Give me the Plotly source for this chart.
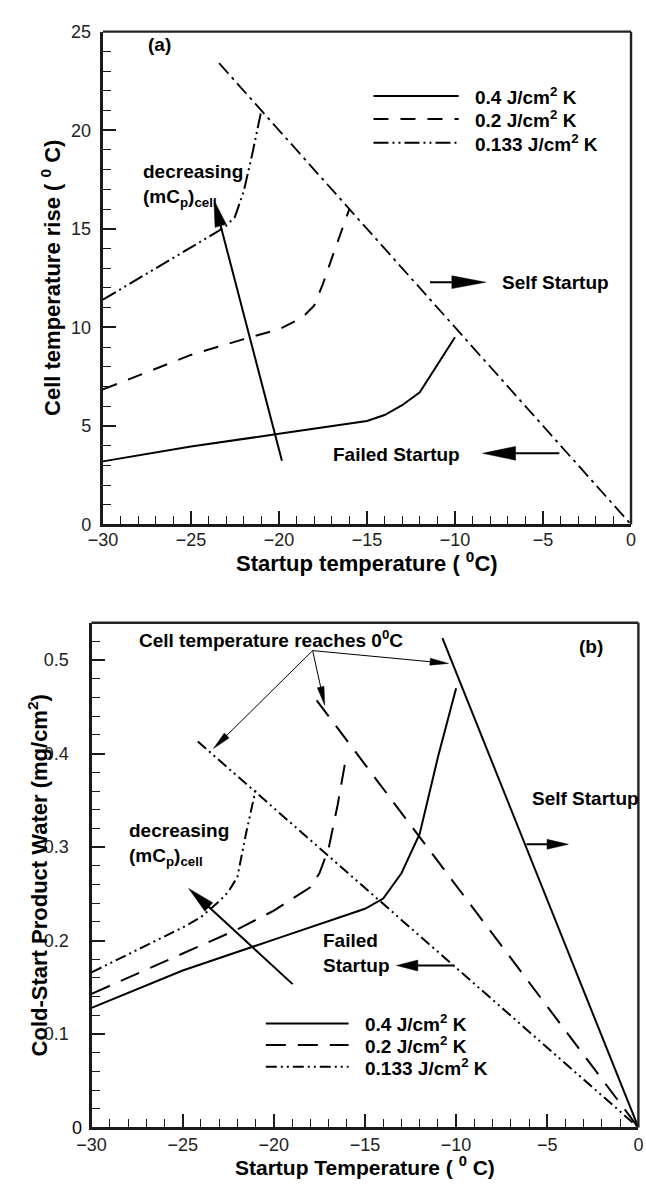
import math
import plotly.graph_objects as go

# ---------------- data ----------------
# (a) cell temperature rise vs. startup temperature
temp_a_04 = [-30, -25, -20, -15, -14, -13, -12, -11, -10]
rise_a_04 = [3.2, 3.95, 4.6, 5.25, 5.55, 6.05, 6.7, 8.1, 9.5]
temp_a_02 = [-30, -25, -22, -20, -19, -18.5, -18, -17.5, -17, -16.5, -16]
rise_a_02 = [6.85, 8.6, 9.4, 9.9, 10.35, 10.65, 11.1, 12.2, 13.5, 14.8, 16.0]
temp_a_0133 = [-30, -25, -24, -23.5, -23, -22.5, -22, -21.5, -21]
rise_a_0133 = [11.4, 14.05, 14.55, 14.85, 15.15, 15.6, 16.9, 18.85, 21.0]
# rise needed for the cell to reach 0 C
limit_a_temp = [-23.4, 0]
limit_a_rise = [23.4, 0]

# (b) cold-start product water vs. startup temperature
temp_b_04 = [-30, -25, -20, -15, -14, -13, -12, -11, -10]
water_b_04 = [0.128, 0.168, 0.201, 0.234, 0.245, 0.272, 0.314, 0.396, 0.47]
temp_b_02 = [-30, -25, -22, -20, -18, -17.5, -17, -16.5, -16]
water_b_02 = [0.143, 0.186, 0.212, 0.232, 0.257, 0.272, 0.298, 0.345, 0.40]
temp_b_0133 = [-30, -25, -24, -23, -22.5, -22, -21.5, -21]
water_b_0133 = [0.166, 0.214, 0.225, 0.242, 0.252, 0.268, 0.317, 0.361]
# water produced when the cell temperature reaches 0 C
limit_b_04_temp = [-10.75, 0]
limit_b_04_water = [0.5235, 0]
limit_b_02_temp = [-17.65, 0]
limit_b_02_water = [0.457, 0]
limit_b_0133_temp = [-24.17, 0]
limit_b_0133_water = [0.413, 0]

series_labels = ["0.4 J/cm<sup>2</sup> K", "0.2 J/cm<sup>2</sup> K", "0.133 J/cm<sup>2</sup> K"]
x_tick_vals = [-30, -25, -20, -15, -10, -5, 0]
y_tick_vals_a = [0, 5, 10, 15, 20, 25]
y_tick_vals_b = [0, 0.1, 0.2, 0.3, 0.4, 0.5]

# ---------------- layout geometry ----------------
W, H = 646, 1184
FONT = "Liberation Sans, Arial, Helvetica, sans-serif"
BOX_A = dict(left=90.7, right=635.7, top=22.0, bottom=523.3)
BOX_B = dict(left=79.0, right=643.3, top=623.3, bottom=1136.7)
RANGE_X = [-30, 0]
RANGE_YA = [0, 25]
RANGE_YB = [0, 0.54]

SCALE = {
    "a": ((BOX_A["right"] - BOX_A["left"]) / (RANGE_X[1] - RANGE_X[0]),
          (BOX_A["bottom"] - BOX_A["top"]) / (RANGE_YA[1] - RANGE_YA[0])),
    "b": ((BOX_B["right"] - BOX_B["left"]) / (RANGE_X[1] - RANGE_X[0]),
          (BOX_B["bottom"] - BOX_B["top"]) / (RANGE_YB[1] - RANGE_YB[0])),
}
REFS = {"a": ("x", "y"), "b": ("x2", "y2")}

DASH_A = {"0.4": "solid", "0.2": "15px,12px", "0.133": "15px,4px,2px,4px,2px,4px"}
DASH_A_LIMIT = "14px,5px,3px,5px"
DASH_B = {"0.4": "solid", "0.2": "20px,12px", "0.133": "11px,4px,2px,4px,2px,4px"}
LW = 2

fig = go.Figure()


def add_line(panel, xs, ys, dash, width=LW):
    xr, yr = REFS[panel]
    fig.add_trace(go.Scatter(
        x=xs, y=ys, mode="lines", xaxis=xr, yaxis=yr,
        line=dict(color="black", width=width, dash=dash),
        showlegend=False, hoverinfo="skip"))


# panel (a)
add_line("a", temp_a_04, rise_a_04, DASH_A["0.4"])
add_line("a", temp_a_02, rise_a_02, DASH_A["0.2"])
add_line("a", temp_a_0133, rise_a_0133, DASH_A["0.133"])
add_line("a", limit_a_temp, limit_a_rise, DASH_A_LIMIT, width=1.8)

# panel (b)
add_line("b", temp_b_04, water_b_04, DASH_B["0.4"])
add_line("b", temp_b_02, water_b_02, DASH_B["0.2"])
add_line("b", temp_b_0133, water_b_0133, DASH_B["0.133"])
add_line("b", limit_b_04_temp, limit_b_04_water, DASH_B["0.4"])
add_line("b", limit_b_02_temp, limit_b_02_water, DASH_B["0.2"])
add_line("b", limit_b_0133_temp, limit_b_0133_water, DASH_B["0.133"])

shapes = []
annotations = []


def arrow(panel, x0, y0, x1, y1, head_len, head_w, lw):
    """Straight arrow from (x0, y0) to tip (x1, y1) with a filled head sized in px."""
    sx, sy = SCALE[panel]
    xr, yr = REFS[panel]
    dx, dy = (x1 - x0) * sx, (y1 - y0) * sy
    L = math.hypot(dx, dy)
    ux, uy = dx / L, dy / L
    bx = x1 - ux * head_len / sx
    by = y1 - uy * head_len / sy
    nx, ny = -uy, ux
    p1 = (bx + nx * head_w / 2 / sx, by + ny * head_w / 2 / sy)
    p2 = (bx - nx * head_w / 2 / sx, by - ny * head_w / 2 / sy)
    shaft_x = x1 - ux * head_len * 0.6 / sx
    shaft_y = y1 - uy * head_len * 0.6 / sy
    shapes.append(dict(type="line", xref=xr, yref=yr, x0=x0, y0=y0, x1=shaft_x, y1=shaft_y,
                       line=dict(color="black", width=lw)))
    shapes.append(dict(type="path", xref=xr, yref=yr,
                       path=f"M{x1},{y1} L{p1[0]},{p1[1]} L{p2[0]},{p2[1]} Z",
                       fillcolor="black", line=dict(color="black", width=0.5)))


def text(panel, x, y, s, size=19, xanchor="left", align="left"):
    xr, yr = REFS[panel]
    annotations.append(dict(xref=xr, yref=yr, x=x, y=y, text=f"<b>{s}</b>", showarrow=False,
                            xanchor=xanchor, yanchor="middle", align=align,
                            font=dict(family=FONT, size=size, color="black")))


def paper_text(px, py, s, size=22, angle=0, xanchor="center"):
    annotations.append(dict(xref="paper", yref="paper", x=px / W, y=1 - py / H, text=s,
                            showarrow=False, xanchor=xanchor, yanchor="middle", textangle=angle,
                            font=dict(family=FONT, size=size, color="black")))


# top and right frame edges
for panel in ("a", "b"):
    xr, yr = REFS[panel]
    shapes.append(dict(type="line", xref=f"{xr} domain", yref=f"{yr} domain",
                       x0=0, x1=1, y0=1, y1=1, line=dict(color="#222", width=2.4)))
    shapes.append(dict(type="line", xref=f"{xr} domain", yref=f"{yr} domain",
                       x0=1, x1=1, y0=0, y1=1, line=dict(color="#222", width=2.4)))

# legend of panel (a)
legend_rows_a = [21.74, 20.57, 19.36]
for key, lab, yy in zip(["0.4", "0.2", "0.133"], series_labels, legend_rows_a):
    shapes.append(dict(type="line", xref="x", yref="y", x0=-14.63, x1=-9.79, y0=yy, y1=yy,
                       line=dict(color="black", width=LW, dash=DASH_A[key])))
    text("a", -8.97, yy, lab)

# legend of panel (b)
legend_rows_b = [0.1113, 0.0882, 0.0651]
for key, lab, yy in zip(["0.4", "0.2", "0.133"], series_labels, legend_rows_b):
    shapes.append(dict(type="line", xref="x2", yref="y2", x0=-20.44, x1=-15.9, y0=yy, y1=yy,
                       line=dict(color="black", width=LW, dash=DASH_B[key])))
    text("b", -15.13, yy, lab)

DECREASING = "decreasing<br>(mC<sub>p</sub>)<sub>cell</sub>"

# annotations of panel (a)
text("a", -26.8, 24.35, "(a)", xanchor="center")
text("a", -27.85, 17.2, DECREASING)
arrow("a", -19.83, 3.23, -23.69, 16.45, 27, 12, 2)
text("a", -7.46, 12.25, "Self Startup")
arrow("a", -11.42, 12.29, -8.25, 12.29, 35, 13, 2)
text("a", -17.07, 3.56, "Failed Startup")
arrow("a", -4.07, 3.61, -8.43, 3.61, 34, 14, 2)

# annotations of panel (b)
text("b", -20.16, 0.5225, "Cell temperature reaches 0<sup>0</sup>C", xanchor="center")
for tip in [(-23.31, 0.4055), (-17.21, 0.4517), (-10.42, 0.4965)]:
    arrow("b", -17.87, 0.5102, tip[0], tip[1], 19, 7, 1)
text("b", -2.59, 0.5147, "(b)", xanchor="center")
text("b", -5.92, 0.3519, "Self Startup")
arrow("b", -6.14, 0.303, -3.84, 0.303, 22, 10, 2)
text("b", -28.07, 0.303, DECREASING)
arrow("b", -18.97, 0.1534, -24.67, 0.2557, 28, 12, 2)
text("b", -17.43, 0.187, "Failed<br>Startup")
arrow("b", -10.09, 0.1733, -13.27, 0.1733, 22, 11, 2)
# zero label of the water axis sits a little closer to the axis
paper_text(71.5, 1137.0, "0", size=18, xanchor="right")

# axis titles
paper_text(363.2, 561.5, "<b>Startup temperature ( <sup>0</sup>C)</b>")
paper_text(37.0, 272.7, "<b>Cell temperature rise ( <sup>0</sup> C)</b>", angle=-90)
paper_text(361.5, 1175.5, "<b>Startup Temperature ( <sup>0</sup> C)</b>", size=21)
paper_text(24.0, 880.0, "<b>Cold-Start Product Water (mg/cm<sup>2</sup>)</b>", angle=-90)


def axis(box, horizontal, rng, tickvals, minor_dtick, standoff, ticktext=None):
    if horizontal:
        dom = [box["left"] / W, box["right"] / W]
    else:
        dom = [1 - box["bottom"] / H, 1 - box["top"] / H]
    ax = dict(domain=dom, range=rng, showgrid=False, zeroline=False,
              showline=True, linewidth=3.3, linecolor="#1a1a1a", mirror=False,
              ticks="inside", ticklen=13, tickwidth=2.4, tickcolor="#1a1a1a",
              tickmode="array", tickvals=tickvals,
              tickfont=dict(family=FONT, size=18, color="#222"),
              ticklabelstandoff=standoff,
              minor=dict(ticks="inside", ticklen=8, tickwidth=1.2, tickcolor="#1a1a1a",
                         dtick=minor_dtick, showgrid=False))
    if ticktext is not None:
        ax["ticktext"] = ticktext
    return ax


fig.update_layout(
    width=W, height=H, margin=dict(l=0, r=0, t=0, b=0),
    paper_bgcolor="white", plot_bgcolor="white", showlegend=False,
    xaxis=dict(axis(BOX_A, True, RANGE_X, x_tick_vals, 1, -3), anchor="y"),
    yaxis=dict(axis(BOX_A, False, RANGE_YA, y_tick_vals_a, 1, 5), anchor="x"),
    xaxis2=dict(axis(BOX_B, True, RANGE_X, x_tick_vals, 1, -1), anchor="y2"),
    yaxis2=dict(axis(BOX_B, False, RANGE_YB, y_tick_vals_b, 0.02, 16,
                     ticktext=[""] + [f"{v:.1f}" for v in y_tick_vals_b[1:]]), anchor="x2"),
    shapes=shapes, annotations=annotations,
)

fig.write_html("out.html", config={"displayModeBar": False})
